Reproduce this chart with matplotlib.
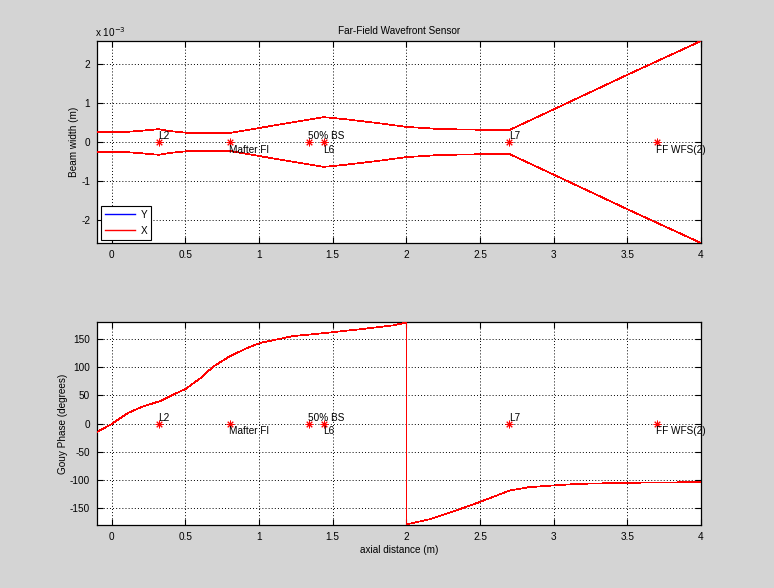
import matplotlib
matplotlib.use("Agg")
import matplotlib.pyplot as plt
from matplotlib.ticker import FuncFormatter
import numpy as np

# ---- data ----
z_width = [-0.1, 0.0, 0.1, 0.2, 0.32, 0.4, 0.5, 0.8, 1.0, 1.2, 1.44, 1.6, 1.8,
           2.0, 2.2, 2.4, 2.7, 3.0, 3.5, 4.0]
width_x_mm = [0.25, 0.25, 0.26, 0.29, 0.33, 0.28, 0.24, 0.23, 0.36, 0.49, 0.64,
              0.58, 0.49, 0.39, 0.34, 0.32, 0.31, 0.84, 1.73, 2.60]
width_y_mm = list(width_x_mm)

z_gouy = [-0.1, -0.007, 0.106, 0.2, 0.33, 0.44, 0.5, 0.6, 0.69, 0.8, 0.92, 1.01,
          1.12, 1.23, 1.43, 1.68, 1.91, 2.0, 2.0, 2.155, 2.34, 2.49, 2.7, 2.83,
          2.99, 3.17, 3.55, 4.0]
gouy_x_deg = [-15, -2, 18, 29, 40, 54, 61, 80, 101, 119, 134, 143, 149, 155, 160,
              167, 174, 179, -179, -170, -154, -140, -119, -113, -110, -107, -105,
              -104]
gouy_y_deg = list(gouy_x_deg)

optic_names = ["L2", "Mafter FI", "50% BS", "L6", "L7", "FF WFS(2)"]
optic_z = [0.32, 0.80, 1.34, 1.44, 2.70, 3.70]
label_above = [True, False, True, False, True, False]

width_ticks = [-2, -1, 0, 1, 2]
gouy_ticks = [-150, -100, -50, 0, 50, 100, 150]
z_ticks = [0, 0.5, 1, 1.5, 2, 2.5, 3, 3.5, 4]
z_tick_labels = ["0", "0.5", "1", "1.5", "2", "2.5", "3", "3.5", "4"]

# ---- style ----
plt.rcParams['font.family'] = ['Liberation Sans', 'DejaVu Sans']
plt.rcParams['axes.unicode_minus'] = False
FS = 7.2
BG = '#d4d4d4'
grid_kw = dict(color='black', linestyle=(0, (1, 2.2)), linewidth=0.7)
line_kw = dict(lw=0.5, antialiased=False, zorder=3)

fig = plt.figure(figsize=(7.74, 5.88), dpi=100, facecolor=BG)
ax1 = fig.add_axes([97/774, 1-243/588, 604/774, 202/588])
ax2 = fig.add_axes([97/774, 1-525/588, 604/774, 203/588])


def style(ax):
    ax.set_facecolor('white')
    ax.tick_params(direction='in', length=4, width=0.8, top=True, right=True,
                   labelsize=FS, colors='black', pad=5)
    for s in ax.spines.values():
        s.set_linewidth(0.9)
        s.set_color('black')
    ax.grid(True, **grid_kw)
    ax.set_axisbelow(False)
    ax.set_xticks(z_ticks)
    ax.set_xticklabels(z_tick_labels)
    ax.set_xlim(-0.1, 4.0)


def optics(ax):
    ax.plot(optic_z, [0]*len(optic_z), linestyle='none', marker=(8, 2, 0),
            color='red', markersize=5.5, markeredgewidth=0.7, zorder=4)
    for name, z, up in zip(optic_names, optic_z, label_above):
        if up:
            ax.annotate(name, (z, 0), xytext=(-0.5, 0.5), textcoords='offset points',
                        ha='left', va='bottom', fontsize=FS, zorder=5)
        else:
            ax.annotate(name, (z, 0), xytext=(-0.5, -2.0), textcoords='offset points',
                        ha='left', va='top', fontsize=FS, zorder=5)


# ---- top: beam width ----
wy = np.array(width_y_mm) * 1e-3
wx = np.array(width_x_mm) * 1e-3
ly, = ax1.plot(z_width, wy, color='#0000ff', **line_kw)
ax1.plot(z_width, -wy, color='#0000ff', **line_kw)
lx, = ax1.plot(z_width, wx, color='#ff0000', **line_kw)
ax1.plot(z_width, -wx, color='#ff0000', **line_kw)
style(ax1)
ax1.set_ylim(-2.6e-3, 2.6e-3)
ax1.set_yticks([t * 1e-3 for t in width_ticks])
ax1.yaxis.set_major_formatter(FuncFormatter(lambda v, p: "%g" % round(v * 1e3, 6)))
optics(ax1)
ax1.set_ylabel("Beam width (m)", fontsize=FS, labelpad=1.5)
ax1.set_title("Far-Field Wavefront Sensor", fontsize=FS, pad=5)
ax1.text(-0.003, 1.012, r"x 10$^{-3}$", transform=ax1.transAxes, fontsize=FS,
         ha='left', va='bottom')
leg = ax1.legend([ly, lx], ["Y", "X"], loc='lower left', fontsize=FS,
                 fancybox=False, framealpha=1, edgecolor='black',
                 handlelength=3.0, borderaxespad=0.35, labelspacing=0.6,
                 handletextpad=0.6)
leg.get_frame().set_linewidth(0.8)
for l in leg.get_lines():
    l.set_linewidth(1.0)

# ---- bottom: Gouy phase ----
ax2.plot(z_gouy, gouy_y_deg, color='#0000ff', **line_kw)
ax2.plot(z_gouy, gouy_x_deg, color='#ff0000', **line_kw)
style(ax2)
ax2.set_ylim(-180, 180)
ax2.set_yticks(gouy_ticks)
optics(ax2)
ax2.set_ylabel("Gouy Phase (degrees)", fontsize=FS, labelpad=1)
ax2.set_xlabel("axial distance (m)", fontsize=FS, labelpad=2.5)

fig.savefig("out.png", dpi=100, facecolor=BG)
